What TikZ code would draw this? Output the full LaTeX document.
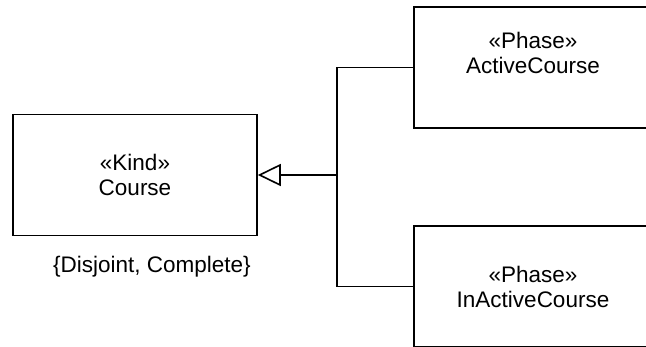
\documentclass[tikz,border=0pt]{standalone}
\usepackage{fontspec}
\setmainfont{Liberation Sans}
\usetikzlibrary{positioning,arrows.meta}

\begin{document}
\begin{tikzpicture}[x=1pt,y=-1pt,
	klasse/.style={draw, line width=1.6pt, minimum width=244pt, minimum height=121pt, align=center, font=\fontsize{22.5}{25}\selectfont},
	linie/.style={line width=1.6pt}]
	\useasboundingbox (0,0) rectangle (646,347);
	\clip (0,0) rectangle (646,347);
	% die Klassen
	\node[klasse] (course) at (135,175) {«Kind»\\Course};
	\node[klasse, minimum width=238pt, text depth=30pt] (active) at (533,67.5) {«Phase»\\ActiveCourse};
	\node[klasse, minimum width=238pt] (inactive) at (533,286.5) {«Phase»\\InActiveCourse};
	% die Generalisierung
	\coordinate (knoten) at (337,175);
	\draw[linie] (active.west) -| (knoten) |- (inactive.west);
	\draw[linie, -{Triangle[open, length=23pt, width=22pt]}] (knoten) -- (course.east);
	% die Annotation
	\node[font=\fontsize{22.5}{25}\selectfont] (gruppe) at (152,267) {\{Disjoint, Complete\}};
\end{tikzpicture}
\end{document}
